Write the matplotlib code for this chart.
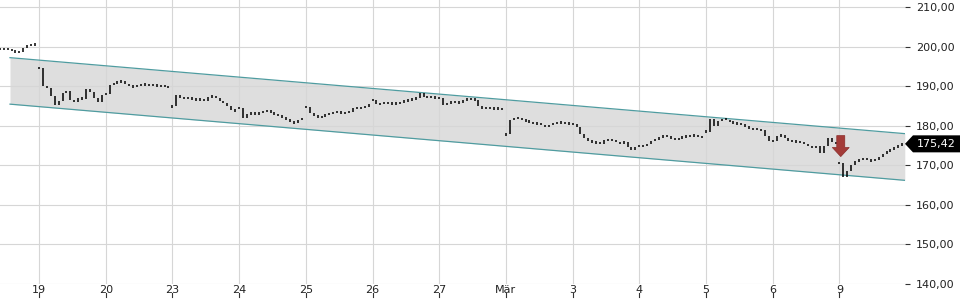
import matplotlib.pyplot as plt
from matplotlib.patches import Polygon
from matplotlib.transforms import blended_transform_factory

# x axis: one slot per trading day
day_labels = ['19', '20', '23', '24', '25', '26', '27', 'Mär', '3', '4', '5', '6', '9']

# prices, first value of each day is the opening print
day18 = [199.4, 199.5, 199.4, 199.0, 198.5, 198.7, 199.6, 200.5, 200.2, 201.0]
day19 = [194.6, 190.0, 189.5, 187.5, 185.2, 186.3, 188.3, 188.8, 186.5, 186.0, 187.0, 186.8, 189.3, 188.5, 187.0, 186.0, 187.8]
day20 = [188.0, 190.3, 190.8, 191.0, 191.3, 190.5, 190.0, 189.8, 190.2, 190.5, 190.3, 190.2, 190.5, 189.8, 190.2, 189.8, 189.9]
day23 = [184.9, 187.8, 187.0, 187.0, 186.9, 186.8, 186.5, 186.8, 186.3, 187.2, 187.5, 187.0, 186.3, 185.7, 185.0, 184.0, 183.6]
day24 = [184.5, 182.0, 183.0, 183.2, 183.0, 183.2, 183.6, 183.8, 183.3, 182.8, 182.6, 182.0, 181.6, 181.0, 180.6, 181.5, 182.0]
day25 = [184.8, 183.2, 182.5, 182.2, 182.3, 182.8, 183.0, 183.3, 183.5, 183.2, 183.3, 183.5, 184.5, 184.3, 184.6, 185.0, 185.2]
day26 = [186.5, 185.4, 185.6, 185.8, 185.6, 185.7, 185.6, 186.0, 186.2, 186.5, 186.8, 187.0, 188.2, 187.3, 187.2, 187.3, 187.0]
day27 = [187.0, 185.3, 185.8, 186.0, 186.0, 185.8, 186.5, 186.8, 186.8, 186.5, 185.0, 184.3, 184.6, 184.2, 184.5, 184.2, 184.3]
day_mar = [177.8, 181.5, 182.0, 181.8, 181.5, 181.2, 181.0, 180.5, 180.7, 180.2, 179.8, 180.2, 180.8, 180.7, 181.0, 180.5, 180.6]
day03 = [180.5, 179.8, 178.0, 176.8, 176.3, 175.8, 175.8, 175.5, 176.5, 176.3, 176.5, 175.8, 175.6, 175.9, 174.5, 174.0, 174.5]
day04 = [174.8, 175.0, 175.3, 176.2, 176.5, 177.0, 177.5, 177.2, 176.8, 176.6, 176.8, 177.2, 177.3, 177.4, 177.6, 177.2, 177.0]
day05 = [178.5, 181.8, 180.0, 181.2, 181.8, 181.5, 181.0, 180.6, 180.5, 180.3, 179.8, 179.3, 179.2, 179.0, 178.8, 177.5, 176.2]
day06 = [176.2, 177.5, 177.6, 177.0, 176.2, 176.0, 176.0, 175.8, 175.5, 174.8, 174.6, 174.8, 173.2, 174.8, 177.0, 176.0, 175.3]
day09 = [170.5, 167.0, 168.5, 170.0, 171.0, 171.5, 171.8, 171.3, 171.2, 171.5, 172.0, 172.8, 173.5, 174.0, 174.5, 175.0, 175.42]

days = [day18, day19, day20, day23, day24, day25, day26, day27, day_mar, day03, day04, day05, day06, day09]

# trend channel (start / end)
channel_x = [-0.435, 12.98]
channel_top = [197.2, 178.0]
channel_bottom = [185.45, 166.2]

# signal arrow
arrow_x = 12.02
arrow_top = 177.5
arrow_base = 174.5
arrow_tip = 172.2

last_price = 175.42

SLOTS = 17

fig = plt.figure(figsize=(9.6, 3.0), dpi=100)
ax = fig.add_axes([0, 16 / 300, 905 / 960, 284 / 300])

# build the bars, each one goes from the previous print to the current one
xs, lows, highs = [], [], []
for d, vals in enumerate(days):
    day_idx = d - 1
    n = len(vals)
    for k, v in enumerate(vals):
        x = day_idx + (k + SLOTS - n) / SLOTS
        prev = vals[k - 1] if k > 0 else v
        lo, hi = min(prev, v), max(prev, v)
        if hi - lo < 0.6:
            mid = (hi + lo) / 2
            lo, hi = mid - 0.3, mid + 0.3
        xs.append(x)
        lows.append(lo)
        highs.append(hi)

ax.fill_between(channel_x, channel_bottom, channel_top, color='#dedede', lw=0, zorder=0.2)
ax.plot(channel_x, channel_top, color='#4f9ca0', lw=0.9, zorder=2)
ax.plot(channel_x, channel_bottom, color='#4f9ca0', lw=0.9, zorder=2)

ax.vlines(xs, lows, highs, color='black', lw=1.1, zorder=3)

# red arrow
hs, hh = 0.06, 0.127
arrow = Polygon([(arrow_x - hs, arrow_top), (arrow_x + hs, arrow_top), (arrow_x + hs, arrow_base),
                 (arrow_x + hh, arrow_base), (arrow_x, arrow_tip), (arrow_x - hh, arrow_base),
                 (arrow_x - hs, arrow_base)], closed=True, facecolor='#a33b38', edgecolor='#8a2c2a',
                lw=0.5, zorder=4)
ax.add_patch(arrow)

ax.set_xlim(-0.585, 12.983)
ax.set_ylim(140, 140 + 284 / 3.957)

ax.set_axisbelow(True)
ax.grid(color='#d6d6d6', lw=0.8)
for s in ax.spines.values():
    s.set_visible(False)

ax.set_yticks(range(140, 220, 10))
ax.set_yticklabels([f'{v:.2f}'.replace('.', ',') for v in range(140, 220, 10)])
ax.yaxis.tick_right()
ax.tick_params(axis='y', length=3.6, width=0.8, color='#333333', pad=4.3, labelsize=8, labelcolor='#222222')

ax.set_xticks(range(len(day_labels)))
ax.set_xticklabels(day_labels)
ax.tick_params(axis='x', length=0, pad=0.5, labelsize=8, labelcolor='#222222')

# little tick marks under the date labels
trans = blended_transform_factory(ax.transData, ax.transAxes)
for i in range(len(day_labels)):
    ax.plot([i, i], [-0.032, -0.046], transform=trans, clip_on=False, color='#333333', lw=0.8)

# last price box on the right
ftrans = blended_transform_factory(fig.transFigure, ax.transData)
h = 2.15
box = Polygon([(905 / 960, last_price), (913 / 960, last_price + h), (1.0, last_price + h),
               (1.0, last_price - h), (913 / 960, last_price - h)], closed=True,
              facecolor='black', edgecolor='none', transform=ftrans, clip_on=False, zorder=5)
ax.add_patch(box)
ax.text(916.5 / 960, last_price, f'{last_price:.2f}'.replace('.', ','), transform=ftrans,
        color='white', fontsize=8, va='center', ha='left', zorder=6, clip_on=False)

fig.savefig('out.png', dpi=100)
